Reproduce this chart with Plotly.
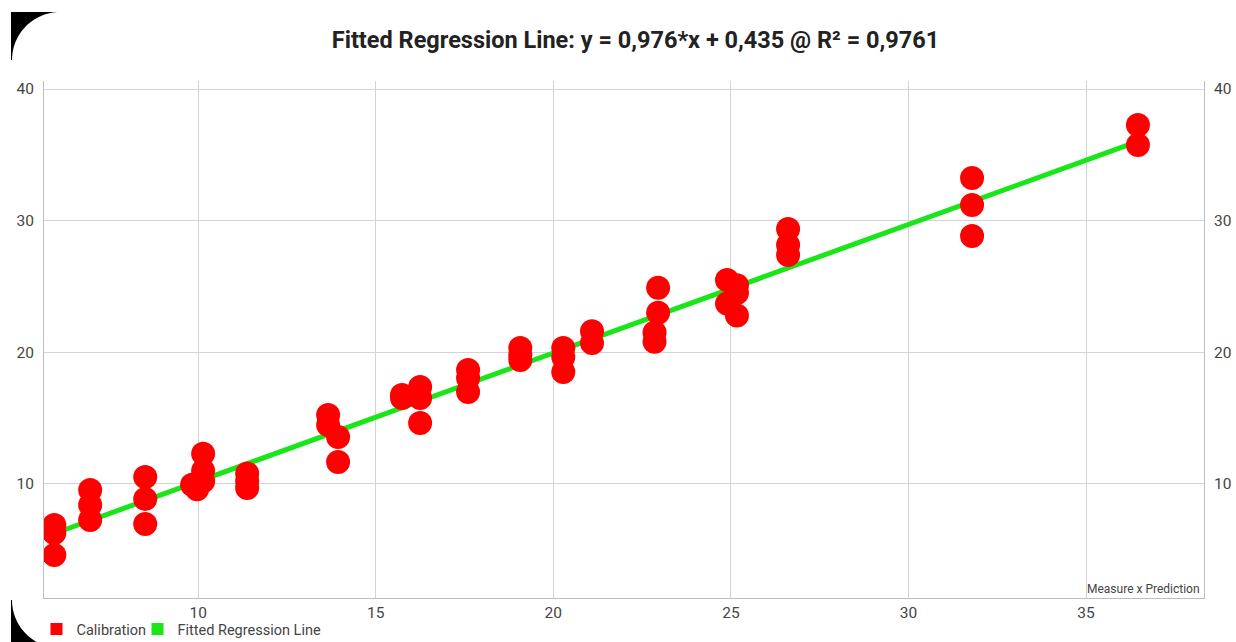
import math
import plotly.graph_objects as go

# ---- data ----
calib_x = [5.95, 5.95, 5.95,
           6.96, 6.96, 6.96,
           8.51, 8.51, 8.51,
           9.83, 9.97, 10.14, 10.14, 10.14,
           11.38, 11.38, 11.38,
           13.66, 13.66, 13.94, 13.94,
           15.74, 15.74, 16.25, 16.25, 16.25,
           17.60, 17.60, 17.60,
           19.07, 19.07, 19.07,
           20.28, 20.28, 20.28,
           21.09, 21.09,
           22.95, 22.95, 22.85, 22.85,
           24.89, 24.89, 25.17, 25.17, 25.17,
           26.61, 26.61, 26.61,
           31.79, 31.79, 31.79,
           36.46, 36.46]
calib_y = [6.89, 6.28, 4.61,
           9.54, 8.40, 7.27,
           10.53, 8.86, 6.96,
           9.95, 9.60, 12.30, 11.00, 10.20,
           10.80, 10.20, 9.70,
           15.24, 14.48, 13.57, 11.67,
           16.76, 16.53, 17.37, 16.53, 14.63,
           18.66, 18.05, 16.99,
           20.33, 19.80, 19.42,
           20.33, 19.65, 18.50,
           21.60, 20.70,
           24.90, 23.00, 21.50, 20.80,
           25.50, 23.70, 25.10, 24.50, 22.80,
           29.37, 28.15, 27.39,
           33.24, 31.19, 28.84,
           37.27, 35.75]

fit_x = [5.95, 36.46]
fit_y = [6.24, 36.02]

y_ticks = [10, 20, 30, 40]
x_ticks = [10, 15, 20, 25, 30, 35]
x_range = [5.66, 38.32]
y_range = [1.34, 40.61]

title_text = "Fitted Regression Line: y = 0,976*x + 0,435 @ R² = 0,9761"
names = ["Calibration", "Fitted Regression Line"]
RED = "#ff0000"
GREEN = "#19e619"
FONT = "Roboto"

W, H = 1236, 642
ML, MR, MT, MB = 44, 32, 81, 44
PW = W - ML - MR
PH = H - MT - MB

fig = go.Figure()

fig.add_trace(go.Scatter(
    x=fit_x, y=fit_y, mode="lines",
    line=dict(color=GREEN, width=5),
    showlegend=False, hoverinfo="skip"))

fig.add_trace(go.Scatter(
    x=calib_x, y=calib_y, mode="markers",
    marker=dict(color=RED, size=24, line=dict(width=0)),
    showlegend=False))

# invisible trace for the mirrored right axis
fig.add_trace(go.Scatter(
    x=[x_range[0]], y=[y_range[0]], yaxis="y2", mode="markers",
    marker=dict(opacity=0), showlegend=False, hoverinfo="skip"))

# legend entries (square swatches)
fig.add_trace(go.Scatter(
    x=[None], y=[None], mode="markers", name=names[0], legend="legend",
    marker=dict(symbol="square", color=RED, size=12)))
fig.add_trace(go.Scatter(
    x=[None], y=[None], mode="markers", name=names[1], legend="legend2",
    marker=dict(symbol="square", color=GREEN, size=12)))


def px2paper(px, py):
    return (px - ML) / PW, (H - MB - py) / PH


def corner_path(points):
    parts = []
    for i, (px, py) in enumerate(points):
        xp, yp = px2paper(px, py)
        parts.append(("M" if i == 0 else "L") + f"{xp:.5f},{yp:.5f}")
    return " ".join(parts) + " Z"


r = 48
# top-left rounded-corner mask
cx, cy = 60, 60
pts = [(11, 12), (60, 12)] + [
    (cx + r * math.cos(math.radians(270 - 90 * k / 30)),
     cy + r * math.sin(math.radians(270 - 90 * k / 30))) for k in range(31)] + [(11, 60)]
# bottom-left rounded-corner mask
cx2, cy2 = 60, 600
end_th = 180 - math.degrees(math.asin(42 / 48))
pts2 = [(11, 600)] + [
    (cx2 + r * math.cos(math.radians(180 - (180 - end_th) * k / 30)),
     cy2 + r * math.sin(math.radians(180 - (180 - end_th) * k / 30))) for k in range(31)] + [(11, 642)]

shapes = [
    dict(type="path", xref="paper", yref="paper", path=corner_path(pts),
         fillcolor="black", line=dict(width=0), layer="above"),
    dict(type="path", xref="paper", yref="paper", path=corner_path(pts2),
         fillcolor="black", line=dict(width=0), layer="above"),
]

tickfont = dict(family=FONT, size=15.5, color="#444444")
axis_common = dict(
    showgrid=True, gridcolor="#d4d4d4", gridwidth=1,
    showline=True, linecolor="#bdbdbd", linewidth=1,
    zeroline=False, ticks="", tickfont=tickfont,
)

legend_common = dict(orientation="h", xanchor="left",
                     yref="container", y=(H - 613) / H, yanchor="top",
                     font=dict(family=FONT, size=14.5, color="#444444"),
                     bgcolor="rgba(0,0,0,0)", itemclick=False)

fig.update_layout(
    width=W, height=H,
    margin=dict(l=ML, r=MR, t=MT, b=MB, autoexpand=False),
    paper_bgcolor="white", plot_bgcolor="white",
    font=dict(family=FONT, color="#444444"),
    title=dict(text=f"<b>{title_text}</b>", x=(635.5 - ML) / PW, xref="paper",
               xanchor="center", y=1 - 40 / H, yanchor="middle",
               font=dict(family=FONT, size=23.5, color="#222222")),
    xaxis=dict(range=x_range, tickvals=x_ticks, **axis_common),
    yaxis=dict(range=y_range, tickvals=y_ticks, ticklabelstandoff=6, **axis_common),
    yaxis2=dict(range=y_range, tickvals=y_ticks, overlaying="y", side="right",
                showgrid=False, showline=True, linecolor="#bdbdbd", linewidth=1,
                zeroline=False, ticks="", ticklabelstandoff=6, tickfont=tickfont),
    legend=dict(x=(36.5 - ML) / PW, **legend_common),
    legend2=dict(x=(137.5 - ML) / PW, **legend_common),
    annotations=[dict(text="Measure x Prediction", xref="paper", yref="paper",
                      x=1, y=0, xanchor="right", yanchor="bottom", xshift=-2,
                      showarrow=False,
                      font=dict(family=FONT, size=12, color="#444444"))],
    shapes=shapes,
    showlegend=True,
)

fig.write_html("out.html", config={"displayModeBar": False},
               post_script="document.body.style.margin='0';")
